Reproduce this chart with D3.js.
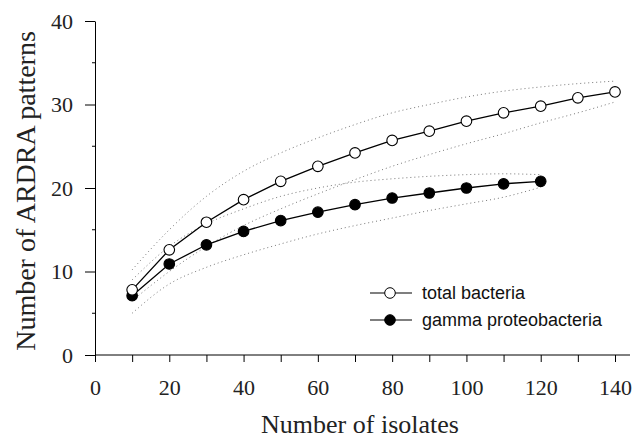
<!DOCTYPE html>
<html>
<head>
<meta charset="utf-8">
<script src="https://cdn.jsdelivr.net/npm/d3@7"></script>
<style>
  body { margin: 0; background: #fff; }
  svg { display: block; }
</style>
</head>
<body>
<svg width="636" height="439"></svg>
<script>
// ---------------------------------------------------------
// Data
const isolates = [10, 20, 30, 40, 50, 60, 70, 80, 90, 100, 110, 120, 130, 140];
const totalBacteria = [7.8, 12.6, 15.9, 18.6, 20.8, 22.6, 24.2, 25.7, 26.8, 28.0, 29.0, 29.8, 30.8, 31.5];
const totalUpper = [10.2, 15.0, 19.0, 22.0, 24.2, 26.0, 27.6, 29.0, 30.0, 30.9, 31.6, 32.1, 32.5, 32.8];
const totalLower = [6.5, 10.0, 13.0, 15.5, 17.5, 19.3, 21.0, 22.6, 24.0, 25.3, 26.5, 27.8, 29.0, 30.3];
const gammaProteo = [7.1, 10.9, 13.2, 14.8, 16.1, 17.1, 18.0, 18.8, 19.4, 20.0, 20.5, 20.8];
const gammaUpper = [9.0, 13.0, 15.7, 17.5, 19.0, 20.0, 20.7, 21.1, 21.4, 21.6, 21.7, 21.6];
const gammaLower = [5.0, 8.5, 10.5, 12.0, 13.3, 14.5, 15.5, 16.4, 17.3, 18.1, 18.9, 20.1];
const xTicks = [0, 20, 40, 60, 80, 100, 120, 140];
const yTicks = [0, 10, 20, 30, 40];
const seriesNames = ['total bacteria', 'gamma proteobacteria'];

const svg = d3.select('svg');

const xScale = d3.scaleLinear().domain([0, 140]).range([95, 615]);
const yScale = d3.scaleLinear().domain([0, 40]).range([355, 21]);

const serif = 'Liberation Serif, Times New Roman, serif';
const sans = 'Liberation Sans, Arial, sans-serif';

// ---------------------------------------------------------
// Axes
const yAxis = d3.axisLeft(yScale).tickValues(yTicks).tickSize(10).tickPadding(12).tickSizeOuter(0);
const gy = svg.append('g').attr('transform', 'translate(95,0)').call(yAxis);
gy.selectAll('text').style('font-family', serif).style('font-size', '22px').attr('fill', '#222');

// minor y ticks
svg.append('g')
    .selectAll('line')
    .data([5, 15, 25, 35])
    .enter()
    .append('line')
    .attr('x1', 92)
    .attr('x2', 95)
    .attr('y1', (d) => yScale(d))
    .attr('y2', (d) => yScale(d))
    .attr('stroke', '#000');

const xAxis = d3
    .axisBottom(xScale)
    .tickValues(d3.range(0, 141, 10))
    .tickSize(7)
    .tickPadding(17)
    .tickSizeOuter(0)
    .tickFormat((d) => (xTicks.includes(d) ? d : ''));
const gx = svg.append('g').attr('transform', 'translate(0,355)').call(xAxis);
gx.select('.domain').remove();
gx.selectAll('text').style('font-family', serif).style('font-size', '22px').attr('fill', '#222');
svg.append('line')
    .attr('x1', 95)
    .attr('x2', 630)
    .attr('y1', 355)
    .attr('y2', 355)
    .attr('stroke', '#000');

// ---------------------------------------------------------
// Axis labels
svg.append('text')
    .text('Number of isolates')
    .attr('x', 360)
    .attr('y', 433)
    .attr('text-anchor', 'middle')
    .style('font-family', serif)
    .style('font-size', '26px')
    .attr('fill', '#222');

svg.append('text')
    .text('Number of ARDRA patterns')
    .attr('transform', 'translate(35,191) rotate(-90)')
    .attr('text-anchor', 'middle')
    .style('font-family', serif)
    .style('font-size', '28px')
    .attr('fill', '#222');

// ---------------------------------------------------------
// Confidence bands (dotted)
const line = d3
    .line()
    .x((d) => xScale(d[0]))
    .y((d) => yScale(d[1]))
    .curve(d3.curveMonotoneX);

[totalUpper, totalLower, gammaUpper, gammaLower].forEach((arr) => {
    svg.append('path')
        .datum(arr.map((v, i) => [isolates[i], v]))
        .attr('d', line)
        .attr('fill', 'none')
        .attr('stroke', '#777')
        .attr('stroke-width', 1)
        .attr('stroke-dasharray', '1,3');
});

// ---------------------------------------------------------
// Series
const straight = d3
    .line()
    .x((d) => xScale(d[0]))
    .y((d) => yScale(d[1]));

function drawSeries(values, fill) {
    const pts = values.map((v, i) => [isolates[i], v]);
    svg.append('path')
        .datum(pts)
        .attr('d', straight)
        .attr('fill', 'none')
        .attr('stroke', '#000')
        .attr('stroke-width', 1.3);
    svg.append('g')
        .selectAll('circle')
        .data(pts)
        .enter()
        .append('circle')
        .attr('cx', (d) => xScale(d[0]))
        .attr('cy', (d) => yScale(d[1]))
        .attr('r', 5.3)
        .attr('fill', fill)
        .attr('stroke', '#000')
        .attr('stroke-width', 1.1);
}
drawSeries(gammaProteo, '#000');
drawSeries(totalBacteria, '#fff');

// ---------------------------------------------------------
// Legend
const legend = svg.append('g').attr('transform', 'translate(370,293)');
seriesNames.forEach((name, i) => {
    const row = legend.append('g').attr('transform', `translate(0,${i * 27})`);
    row.append('line').attr('x1', 0).attr('x2', 42).attr('stroke', '#000').attr('stroke-width', 1.2);
    row.append('circle')
        .attr('cx', 20)
        .attr('r', 5.3)
        .attr('fill', i === 0 ? '#fff' : '#000')
        .attr('stroke', '#000');
    row.append('text')
        .text(name)
        .attr('x', 52)
        .attr('y', 6)
        .style('font-family', sans)
        .style('font-size', '18px')
        .attr('fill', '#111');
});
</script>
</body>
</html>
